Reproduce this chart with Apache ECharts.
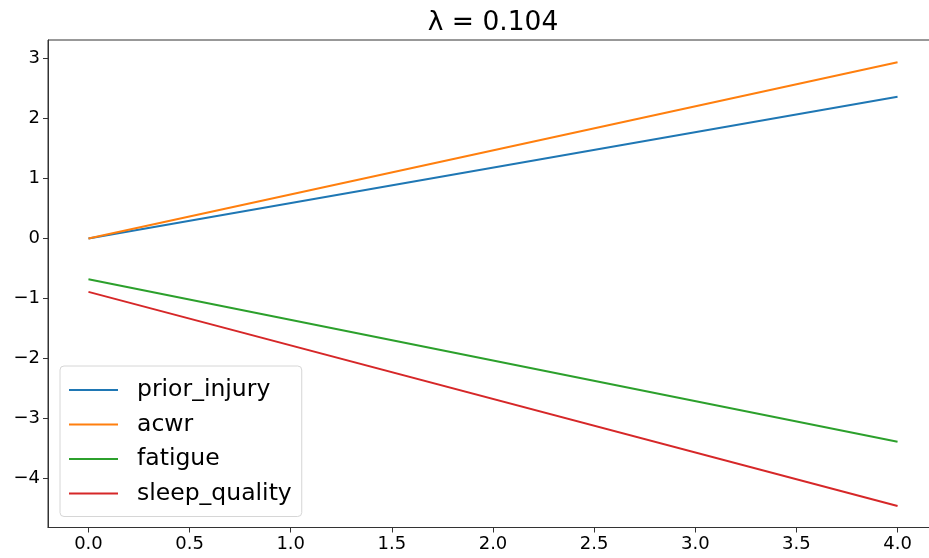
<!DOCTYPE html>
<html>
<head>
<meta charset="utf-8">
<script src="https://cdn.jsdelivr.net/npm/echarts@6/dist/echarts.min.js"></script>
<style>html,body{margin:0;padding:0;background:#fff;}#c{width:929px;height:558px;}</style>
</head>
<body>
<div id="c"></div>
<script>
const xValues = [0, 4];
const seriesNames = ['prior_injury', 'acwr', 'fatigue', 'sleep_quality'];
const priorInjury = [0, 2.365];
const acwr = [0, 2.94];
const fatigue = [-0.68, -3.39];
const sleepQuality = [-0.89, -4.46];
const xTicks = [0, 0.5, 1, 1.5, 2, 2.5, 3, 3.5, 4];
const yTicks = [-4, -3, -2, -1, 0, 1, 2, 3];
const colors = ['#1f77b4', '#ff7f0e', '#2ca02c', '#d62728'];
const titleText = 'λ = 0.104';

const allSeries = [priorInjury, acwr, fatigue, sleepQuality];
const font = 'DejaVu Sans';
const chart = echarts.init(document.getElementById('c'), null, {renderer: 'canvas'});
chart.setOption({
  animation: false,
  backgroundColor: '#fff',
  title: {
    text: titleText, left: 488, top: 5, textAlign: 'center',
    textStyle: {fontFamily: font, fontSize: 26.5, fontWeight: 'normal', color: '#000'}
  },
  grid: {left: 48, top: 40, width: 890, height: 487.5, outerBoundsMode: 'none', containLabel: false, show: true, borderColor: '#333', borderWidth: 1, backgroundColor: 'transparent'},
  legend: {
    orient: 'vertical', left: 60, top: 366,
    data: seriesNames,
    icon: 'rect', itemWidth: 49, itemHeight: 2, itemGap: 10.5,
    backgroundColor: '#fff', borderColor: '#d6d6d6', borderWidth: 1, borderRadius: 4,
    padding: [12, 10, 11, 9],
    textStyle: {fontFamily: font, fontSize: 23.5, color: '#000', padding: [0, 0, 0, 14]}
  },
  xAxis: {
    type: 'value', min: -0.2, max: 4.2,
    axisLine: {show: true, onZero: false, lineStyle: {color: '#333'}},
    splitLine: {show: false},
    axisTick: {show: true, inside: false, customValues: xTicks, length: 5, lineStyle: {color: '#333'}},
    axisLabel: {customValues: xTicks, formatter: v => v.toFixed(1), fontFamily: font, fontSize: 18, color: '#000', margin: 8}
  },
  yAxis: {
    type: 'value', min: -4.82, max: 3.311,
    axisLine: {show: true, onZero: false, lineStyle: {color: '#333'}},
    splitLine: {show: false},
    axisTick: {show: true, inside: false, customValues: yTicks, length: 5, lineStyle: {color: '#333'}},
    axisLabel: {customValues: yTicks, formatter: v => (v < 0 ? '\u2212' + Math.abs(v) : String(v)), fontFamily: font, fontSize: 18, color: '#000', margin: 8}
  },
  series: seriesNames.map((n, i) => ({
    name: n, type: 'line', showSymbol: false, symbol: 'none',
    data: xValues.map((x, j) => [x, allSeries[i][j]]),
    lineStyle: {color: colors[i], width: 2},
    itemStyle: {color: colors[i]}
  }))
});
</script>
</body>
</html>
